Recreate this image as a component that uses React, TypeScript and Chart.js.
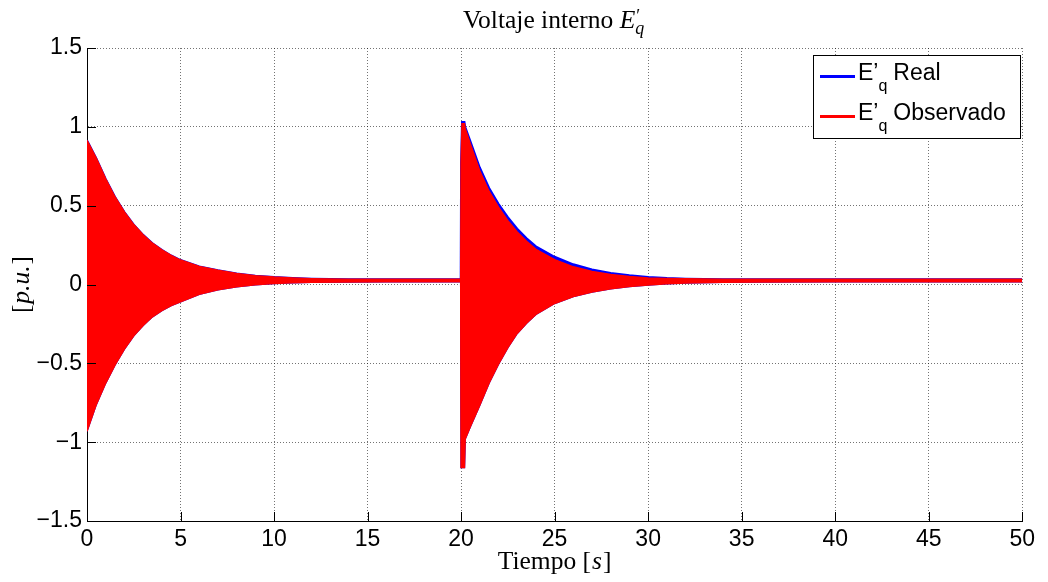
import React, { useEffect, useRef } from "react";
import { Chart, registerables } from "chart.js";

Chart.register(...registerables);

// Time samples [s] at which the envelopes of the dense oscillation were read
const timeS = [
  0, 0.5, 1, 1.5, 2, 2.5, 3, 3.5, 4, 4.5, 5, 6, 7, 8, 9, 10, 11, 12, 14, 16, 18, 19.98,
  20.0, 20.05, 20.18, 20.22, 20.5, 21, 21.5, 22, 22.5, 23, 23.5, 24, 25, 26, 27, 28, 29, 30,
  31, 32, 34, 36, 40, 45, 50,
];

// E'q Observado: upper / lower envelope of the oscillation [p.u.]
const observedUpper = [
  0.915, 0.8, 0.67, 0.555, 0.46, 0.38, 0.315, 0.262, 0.22, 0.184, 0.155, 0.115, 0.09, 0.07, 0.056, 0.047, 0.041, 0.037, 0.034, 0.033, 0.033, 0.033,
  0.77, 1.02, 1.02, 0.99, 0.89, 0.72, 0.59, 0.49, 0.405, 0.333, 0.274, 0.223, 0.158, 0.112, 0.082, 0.063, 0.05, 0.042,
  0.038, 0.036, 0.034, 0.033, 0.033, 0.033, 0.033,
];
const observedLower = [
  -0.93, -0.76, -0.625, -0.51, -0.41, -0.325, -0.26, -0.205, -0.165, -0.133, -0.109, -0.062, -0.034, -0.014, -0.001, 0.006, 0.011, 0.014, 0.016, 0.017, 0.017, 0.017,
  -1.16, -1.16, -1.16, -0.98, -0.9, -0.765, -0.625, -0.505, -0.4, -0.31, -0.245, -0.19, -0.12, -0.077, -0.048, -0.027, -0.012, -0.003,
  0.005, 0.01, 0.014, 0.016, 0.017, 0.017, 0.017,
];

// E'q Real: upper / lower envelope of the oscillation [p.u.]
const realUpper = [
  0.915, 0.8, 0.67, 0.555, 0.46, 0.38, 0.315, 0.262, 0.22, 0.184, 0.155, 0.115, 0.09, 0.07, 0.056, 0.047, 0.041, 0.037, 0.034, 0.033, 0.033, 0.033,
  0.77, 1.03, 1.03, 1.0, 0.908, 0.742, 0.612, 0.512, 0.427, 0.354, 0.294, 0.242, 0.176, 0.128, 0.095, 0.073, 0.058, 0.048,
  0.041, 0.037, 0.034, 0.033, 0.033, 0.033, 0.033,
];
const realLower = [
  -0.93, -0.76, -0.625, -0.51, -0.41, -0.325, -0.26, -0.205, -0.165, -0.133, -0.109, -0.062, -0.034, -0.014, -0.001, 0.006, 0.011, 0.014, 0.016, 0.017, 0.017, 0.017,
  -1.16, -1.16, -1.16, -0.98, -0.9, -0.765, -0.625, -0.505, -0.4, -0.31, -0.245, -0.19, -0.12, -0.077, -0.048, -0.027, -0.012, -0.003,
  0.005, 0.01, 0.014, 0.016, 0.017, 0.017, 0.017,
];

const xTicks = [0, 5, 10, 15, 20, 25, 30, 35, 40, 45, 50];
const yTicks = [-1.5, -1, -0.5, 0, 0.5, 1, 1.5];
const legendNames = ["Real", "Observado"];
const legendColors = ["#0000ff", "#ff0000"];

const SANS = '"Liberation Sans", Arial, Helvetica, sans-serif';
const SERIF = '"Liberation Serif", "Times New Roman", serif';

const series = (vals: number[]) => timeS.map((t, i) => ({ x: t, y: vals[i] }));

const overlayPlugin = {
  id: "matlabOverlay",
  afterDraw(chart: any) {
    const { ctx, chartArea, scales } = chart;
    const { left, right, top, bottom } = chartArea;
    const cx = (left + right) / 2;
    const cy = (top + bottom) / 2;
    ctx.save();

    // inward tick marks
    ctx.strokeStyle = "#000";
    ctx.lineWidth = 1;
    ctx.setLineDash([]);
    ctx.beginPath();
    xTicks.forEach((v) => {
      const px = Math.round(scales.x.getPixelForValue(v)) + 0.5;
      ctx.moveTo(px, bottom);
      ctx.lineTo(px, bottom - 9);
    });
    yTicks.forEach((v) => {
      const py = Math.round(scales.y.getPixelForValue(v)) + 0.5;
      ctx.moveTo(left, py);
      ctx.lineTo(left + 9, py);
    });
    ctx.stroke();

    ctx.fillStyle = "#000";
    ctx.textBaseline = "alphabetic";
    ctx.textAlign = "left";

    // Title: Voltaje interno E'_q
    const fTitle = `25.5px ${SERIF}`;
    const fTitleI = `italic 25.5px ${SERIF}`;
    const fScript = `italic 18px ${SERIF}`;
    const fPrime = `18px ${SERIF}`;
    const t1 = "Voltaje interno ";
    ctx.font = fTitle;
    const w1 = ctx.measureText(t1).width;
    ctx.font = fTitleI;
    const wE = ctx.measureText("E").width;
    ctx.font = fScript;
    const wq = ctx.measureText("q").width;
    const total = w1 + wE + wq + 2;
    let x = cx - total / 2;
    const by = 20;
    ctx.font = fTitle;
    ctx.fillText(t1, x, by);
    x += w1;
    ctx.font = fTitleI;
    ctx.fillText("E", x, by);
    x += wE;
    ctx.font = fPrime;
    ctx.fillText("\u2032", x + 1, by - 6);
    ctx.font = fScript;
    ctx.fillText("q", x, by + 6);

    // X label: Tiempo [s]
    const xl1 = "Tiempo [";
    const xl2 = "s";
    const xl3 = "]";
    ctx.font = fTitle;
    const a1 = ctx.measureText(xl1).width;
    const a3 = ctx.measureText(xl3).width;
    ctx.font = fTitleI;
    const a2 = ctx.measureText(xl2).width + 2;
    let xx = cx - (a1 + a2 + a3) / 2;
    const xb = 561;
    ctx.font = fTitle;
    ctx.fillText(xl1, xx, xb);
    xx += a1;
    ctx.font = fTitleI;
    ctx.fillText(xl2, xx + 1, xb);
    xx += a2;
    ctx.font = fTitle;
    ctx.fillText(xl3, xx, xb);

    // Y label: [p.u.]
    ctx.save();
    ctx.translate(21, cy);
    ctx.rotate(-Math.PI / 2);
    ctx.font = fTitle;
    const b1 = ctx.measureText("[").width;
    const b3 = ctx.measureText("]").width;
    ctx.font = fTitleI;
    const b2 = ctx.measureText("p.u.").width + 2;
    let yx = -(b1 + b2 + b3) / 2;
    ctx.font = fTitle;
    ctx.fillText("[", yx, 0);
    yx += b1;
    ctx.font = fTitleI;
    ctx.fillText("p.u.", yx + 1, 0);
    yx += b2;
    ctx.font = fTitle;
    ctx.fillText("]", yx, 0);
    ctx.restore();

    // Legend
    const lx = 805, ly = 47, lw = 207, lh = 83;
    ctx.fillStyle = "#fff";
    ctx.fillRect(lx, ly, lw, lh);
    ctx.strokeStyle = "#000";
    ctx.lineWidth = 1;
    ctx.strokeRect(lx + 0.5, ly + 0.5, lw, lh);
    legendNames.forEach((name, i) => {
      const base = ly + 25 + i * 40;
      ctx.strokeStyle = legendColors[i];
      ctx.lineWidth = 3;
      ctx.beginPath();
      ctx.moveTo(lx + 7, base - 3.5);
      ctx.lineTo(lx + 42, base - 3.5);
      ctx.stroke();
      ctx.fillStyle = "#000";
      let tx = lx + 45;
      ctx.font = `23px ${SANS}`;
      ctx.fillText("E\u2019", tx, base);
      tx += ctx.measureText("E\u2019").width;
      ctx.font = `16px ${SANS}`;
      ctx.fillText("q", tx, base + 11);
      tx += ctx.measureText("q").width + 6;
      ctx.font = `23px ${SANS}`;
      ctx.fillText(name, tx, base);
    });

    ctx.restore();
  },
};

export default function App() {
  const ref = useRef<HTMLCanvasElement | null>(null);

  useEffect(() => {
    if (!ref.current) return;
    const common = { pointRadius: 0, borderWidth: 1.5, tension: 0 };
    const chart = new Chart(ref.current, {
      type: "line",
      data: {
        datasets: [
          {
            ...common,
            label: "E'q Observado (sup)",
            data: series(observedUpper),
            borderColor: "#ff0000",
            backgroundColor: "#ff0000",
            fill: false,
            order: 0,
          },
          {
            ...common,
            label: "E'q Observado (inf)",
            data: series(observedLower),
            borderColor: "#ff0000",
            backgroundColor: "#ff0000",
            fill: "-1",
            order: 0,
          },
          {
            ...common,
            borderWidth: 2,
            label: "E'q Real (sup)",
            data: series(realUpper),
            borderColor: "#0000ff",
            backgroundColor: "#0000ff",
            fill: false,
            order: 1,
          },
          {
            ...common,
            label: "E'q Real (inf)",
            data: series(realLower),
            borderColor: "#0000ff",
            backgroundColor: "#0000ff",
            fill: "-1",
            order: 1,
          },
        ],
      },
      options: {
        animation: false,
        responsive: true,
        maintainAspectRatio: false,
        layout: { padding: { left: 0, right: 15, top: 40, bottom: 0 } },
        plugins: {
          legend: { display: false },
          tooltip: { enabled: false },
          title: { display: false },
        },
        scales: {
          x: {
            type: "linear",
            min: 0,
            max: 50,
            afterFit: (s: any) => {
              s.height = 53;
            },
            afterBuildTicks: (s: any) => {
              s.ticks = xTicks.map((v) => ({ value: v }));
            },
            ticks: {
              font: { family: SANS, size: 23 },
              color: "#000",
              padding: 5,
              maxRotation: 0,
              autoSkip: false,
              callback: (v: any) => String(v),
            },
            grid: {
              color: "rgba(0,0,0,0.55)",
              lineWidth: 1,
              drawTicks: false,
            },
            border: { display: true, color: "#000", width: 1, dash: [1, 2] },
          },
          y: {
            type: "linear",
            min: -1.5,
            max: 1.5,
            afterFit: (s: any) => {
              s.width = 79;
            },
            afterBuildTicks: (s: any) => {
              s.ticks = yTicks.map((v) => ({ value: v }));
            },
            ticks: {
              font: { family: SANS, size: 23 },
              color: "#000",
              padding: 5,
              autoSkip: false,
              callback: (v: any) => String(v).replace("-", "\u2212"),
            },
            grid: {
              color: "rgba(0,0,0,0.55)",
              lineWidth: 1,
              drawTicks: false,
            },
            border: { display: true, color: "#000", width: 1, dash: [1, 2] },
          },
        },
      } as any,
      plugins: [overlayPlugin],
    });
    return () => chart.destroy();
  }, []);

  return (
    <div style={{ position: "relative", width: 1032, height: 566, background: "#fff" }}>
      <canvas ref={ref} />
    </div>
  );
}
